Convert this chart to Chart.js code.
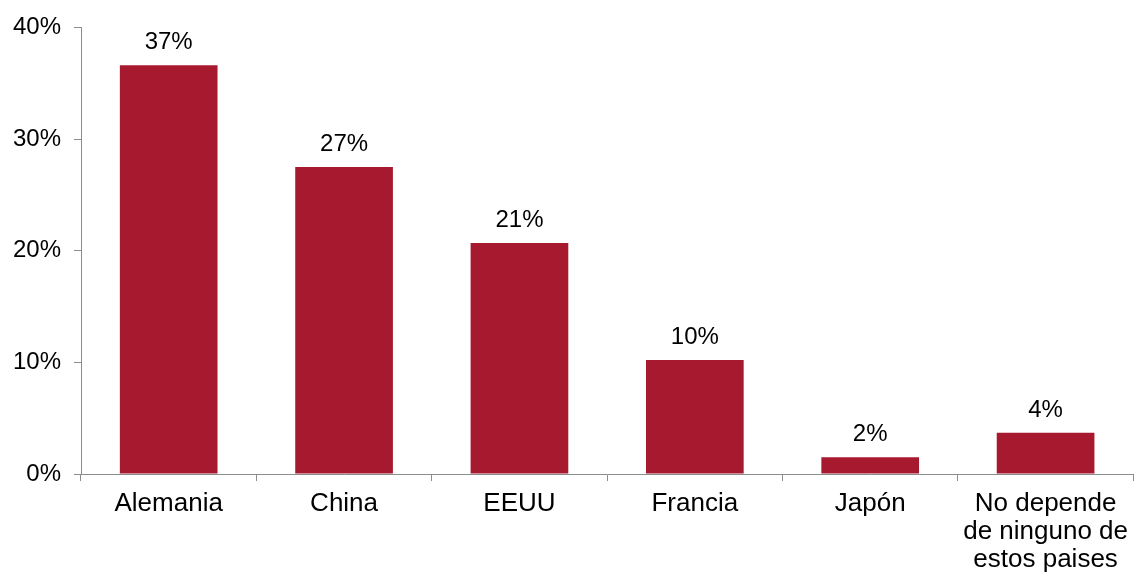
<!DOCTYPE html>
<html>
<head>
<meta charset="utf-8">
<script src="https://cdn.jsdelivr.net/npm/chart.js@4"></script>
<style>
  html, body { margin: 0; padding: 0; background: #ffffff; }
  #wrap { width: 1137px; height: 580px; position: relative; }
</style>
</head>
<body>
<div id="wrap"><canvas id="c" width="1137" height="580"></canvas></div>
<script>
const categories = ['Alemania', 'China', 'EEUU', 'Francia', 'Japón', ['No depende', 'de ninguno de', 'estos paises']];
const values = [36.6, 27.5, 20.7, 10.2, 1.5, 3.7];
const valueLabels = ['37%', '27%', '21%', '10%', '2%', '4%'];
const yTicks = [0, 10, 20, 30, 40];

const BAR = '#A6192E';
const AXIS = '#8c8c8c';
const FONT = "'Liberation Sans', Arial, sans-serif";

const labelPlugin = {
  id: 'valueLabels',
  afterDatasetsDraw(chart) {
    const ctx = chart.ctx;
    const meta = chart.getDatasetMeta(0);
    ctx.save();
    ctx.font = '24px ' + FONT;
    ctx.fillStyle = '#000000';
    ctx.textAlign = 'center';
    ctx.textBaseline = 'alphabetic';
    meta.data.forEach((bar, i) => {
      ctx.fillText(valueLabels[i], bar.x, bar.y - 16);
    });
    ctx.restore();
  }
};

new Chart(document.getElementById('c'), {
  type: 'bar',
  data: {
    labels: categories,
    datasets: [{
      data: values,
      backgroundColor: BAR,
      borderWidth: 0,
      barPercentage: 0.557,
      categoryPercentage: 1.0
    }]
  },
  options: {
    responsive: false,
    animation: false,
    devicePixelRatio: 1,
    layout: { padding: { top: 24, right: 0, left: 0, bottom: 0 } },
    plugins: { legend: { display: false }, tooltip: { enabled: false } },
    scales: {
      x: {
        offset: true,
        grid: { display: true, offset: true, drawOnChartArea: false, drawTicks: true, tickLength: 7, color: AXIS, lineWidth: 1 },
        border: { display: true, color: AXIS, width: 1 },
        ticks: { color: '#000000', font: { family: FONT, size: 26, lineHeight: 1.08 }, padding: 9, maxRotation: 0, autoSkip: false },
        afterFit(scale) { scale.height = 106; }
      },
      y: {
        min: 0,
        max: 40,
        afterBuildTicks(scale) { scale.ticks = yTicks.map(v => ({ value: v })); },
        grid: { display: true, drawOnChartArea: false, drawTicks: true, tickLength: 7, color: AXIS, lineWidth: 1 },
        border: { display: true, color: AXIS, width: 1 },
        ticks: { color: '#000000', font: { family: FONT, size: 24 }, padding: 13, callback: v => v + '%' },
        afterFit(scale) { scale.width = 81; }
      }
    }
  },
  plugins: [labelPlugin]
});
</script>
</body>
</html>
